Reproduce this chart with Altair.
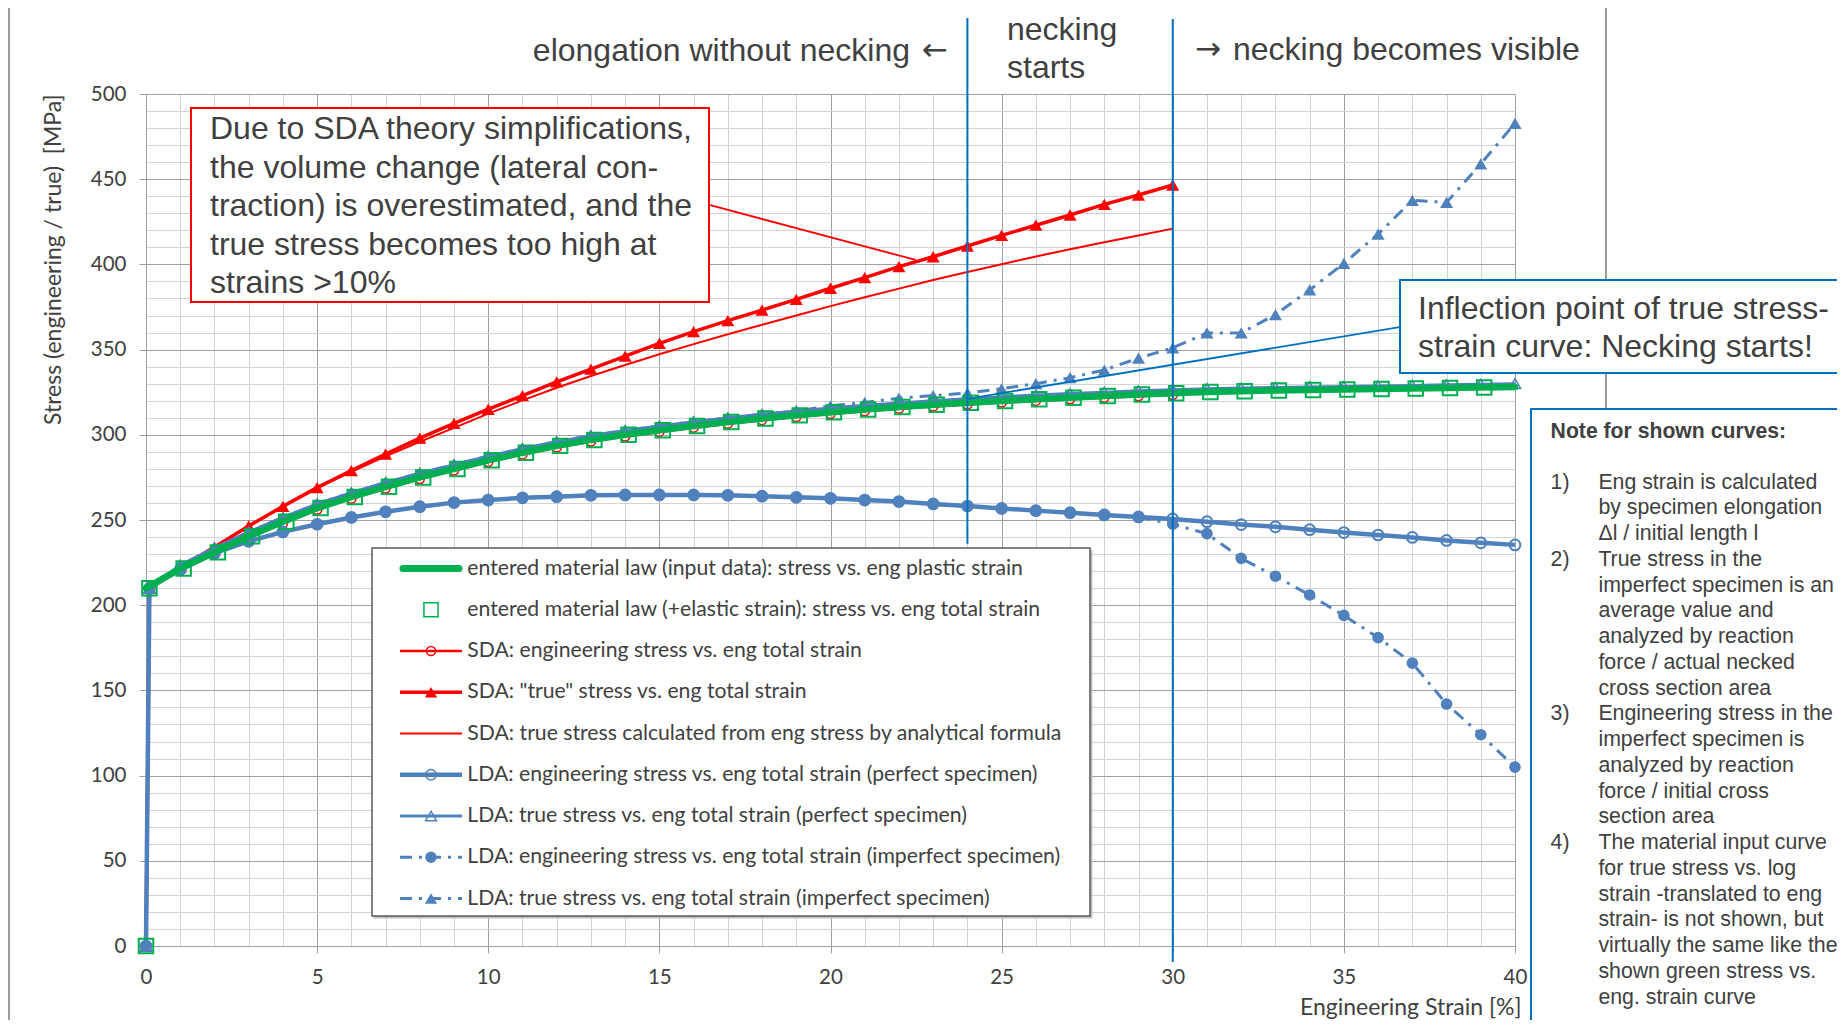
import altair as alt
import pandas as pd

# ---------------- data ----------------
strain_plastic = [0, 1, 2, 3, 4, 5, 6, 7, 8, 9, 10, 11, 12, 13, 14, 15, 16, 17, 18, 19, 20,
                  21, 22, 23, 24, 25, 26, 27, 28, 29, 30, 31, 32, 33, 34, 35, 36, 37, 38, 39, 40]
stress_mat_plastic = [210, 221.5, 231, 240.5, 249, 257, 263.5, 269.5, 275, 280, 285, 289.5, 293.5, 297, 300,
                      302.7, 305.2, 307.5, 309.6, 311.4, 313.2, 314.8, 316.3, 317.6, 318.8, 319.9, 320.9,
                      321.8, 322.7, 323.6, 324.4, 325.1, 325.6, 326, 326.3, 326.6, 326.9, 327.2, 327.5, 327.8, 328]

strain_mat_total = [0, 0.1, 1.1, 2.1, 3.1, 4.1, 5.1, 6.1, 7.1, 8.1, 9.1, 10.1, 11.1, 12.1, 13.1, 14.1,
                    15.1, 16.1, 17.1, 18.1, 19.1, 20.1, 21.1, 22.1, 23.1, 24.1, 25.1, 26.1, 27.1, 28.1,
                    29.1, 30.1, 31.1, 32.1, 33.1, 34.1, 35.1, 36.1, 37.1, 38.1, 39.1]
stress_mat_total = [0, 210, 221.5, 231, 240.5, 249, 257, 263.5, 269.5, 275, 280, 285, 289.5, 293.5, 297, 300,
                    302.7, 305.2, 307.5, 309.6, 311.4, 313.2, 314.8, 316.3, 317.6, 318.8, 319.9, 320.9,
                    321.8, 322.7, 323.6, 324.4, 325.1, 325.6, 326, 326.3, 326.6, 326.9, 327.2, 327.5, 327.8]

strain_sda = [0, 0.1, 1, 2, 3, 4, 5, 6, 7, 8, 9, 10, 11, 12, 13, 14, 15, 16, 17, 18, 19, 20,
              21, 22, 23, 24, 25, 26, 27, 28, 29, 30]
sda_eng = [0, 210, 220.5, 230, 239.5, 248, 256, 262.5, 268.5, 274, 279, 284, 288.5, 292.5, 296, 299,
           301.7, 304.2, 306.5, 308.6, 310.4, 312.2, 313.8, 315.3, 316.6, 317.8, 318.9, 319.9, 320.8,
           321.7, 322.6, 323.4]
sda_true = [0, 210, 222, 234, 246.5, 258, 269, 279, 288.7, 298, 306.7, 315, 323, 331, 338.5, 346.2,
            353.6, 360.5, 367, 373.2, 379.5, 386, 392.2, 398.7, 404.5, 410.8, 417, 423, 429, 435.2,
            440.7, 446.6]
sda_analytic = [0, 210, 222.7, 234.6, 246.7, 257.9, 268.8, 278.3, 287.3, 295.9, 304.1, 312.4, 320.2,
                327.6, 334.5, 341, 347.3, 353.2, 359, 364.6, 370, 375.5, 380.7, 385.8, 390.8, 395.5,
                400.1, 404.6, 408.9, 413, 417, 421]

strain_lda = [0, 0.1, 1, 2, 3, 4, 5, 6, 7, 8, 9, 10, 11, 12, 13, 14, 15, 16, 17, 18, 19, 20,
              21, 22, 23, 24, 25, 26, 27, 28, 29, 30, 31, 32, 33, 34, 35, 36, 37, 38, 39, 40]
lda_eng_perfect = [0, 210, 221, 230.5, 237.5, 243, 247.5, 251.5, 254.8, 257.8, 260.2, 261.7, 263, 263.7,
                   264.5, 264.7, 264.7, 264.7, 264.5, 264, 263.3, 262.7, 261.7, 260.8, 259.4, 258.2,
                   256.8, 255.5, 254.3, 253, 251.8, 250.6, 249, 247.3, 246, 244.3, 242.6, 241.2, 239.8,
                   238, 236.6, 235.4]
lda_true_perfect = [0, 210, 223.5, 233.5, 243, 251.5, 259.5, 266, 272, 277.5, 282.5, 287.5, 292, 296,
                    299.5, 302.5, 305.2, 307.7, 310, 312, 313.9, 315.7, 317.3, 318.7, 320, 321.2, 322.3,
                    323.3, 324.2, 325, 325.8, 326.5, 327, 327.4, 327.8, 328.1, 328.4, 328.7, 329, 329.3,
                    329.6, 330]
lda_eng_imperfect = [0, 210, 221, 230.5, 237.5, 243, 247.5, 251.5, 254.8, 257.8, 260.2, 261.7, 263, 263.7,
                     264.5, 264.7, 264.7, 264.7, 264.5, 264, 263.3, 262.7, 261.7, 260.8, 259.4, 258.2,
                     256.8, 255.5, 254.3, 253, 251.8, 247.5, 242, 227.5, 217, 206, 194, 181, 166, 142,
                     124, 105]
lda_true_imperfect = [0, 210, 223.5, 233.5, 243, 251.5, 259.5, 266, 272, 277.5, 282.5, 287.5, 292, 296,
                      299.5, 302.5, 305.2, 307.7, 310, 312, 313.9, 317, 319, 321.5, 323, 324.5, 327, 330,
                      333.5, 338, 345, 351, 359.8, 359.8, 370.5, 385, 400.6, 417.8, 437.6, 436.4, 459,
                      482.8]

# markers of the necking zone and the callout leader lines (data coordinates)
necking_x = [24, 30]
necking_top = [544.6, 544.0]
necking_bottom = [236, -9.4]
red_leader = {"x": [16.46], "y": [434.9], "x2": [22.49], "y2": [402.6]}
blue_leader = {"x": [36.67], "y": [363.4], "x2": [24.0], "y2": [321.1]}

x_grid_values = list(range(0, 41))
y_grid_values = list(range(0, 501, 10))

legend_labels = [
    "entered material law (input data): stress vs. eng plastic strain",
    "entered material law (+elastic strain): stress vs. eng total strain",
    "SDA: engineering stress vs. eng total strain",
    'SDA: "true" stress vs. eng total strain',
    "SDA: true stress calculated from eng stress by analytical formula",
    "LDA: engineering stress vs. eng total strain (perfect specimen)",
    "LDA: true stress vs. eng total strain (perfect specimen)",
    "LDA: engineering stress vs. eng total strain (imperfect specimen)",
    "LDA: true stress vs. eng total strain (imperfect specimen)",
]
red_note = ["Due to SDA theory simplifications,", "the volume change (lateral con-",
            "traction) is overestimated, and the", "true stress becomes too high at", "strains >10%"]
blue_note = ["Inflection point of true stress-", "strain curve: Necking starts!"]
note_title = "Note for shown curves:"
note_lines = ["Eng strain is calculated", "by specimen elongation", "\u0394l / initial length l",
              "True stress in the", "imperfect specimen is an", "average value and", "analyzed by reaction",
              "force / actual necked", "cross section area",
              "Engineering stress in the", "imperfect specimen is", "analyzed by reaction",
              "force / initial cross", "section area",
              "The material input curve", "for true stress vs. log", "strain -translated to eng",
              "strain- is not shown, but", "virtually the same like the", "shown green stress vs.",
              "eng. strain curve"]
note_numbers = {0: "1)", 3: "2)", 9: "3)", 14: "4)"}

# ---------------- styles ----------------
MAJOR = "#a0a0a0"
MINOR = "#d3d3d3"
TXT = "#404040"
GREEN = "#00b050"
RED = "#ff0000"
BLUE = "#4f81bd"
DBLUE = "#0070c0"
AX_FONT = "Lato"
AN_FONT = "Liberation Sans"
ARROW_FONT = "DejaVu Sans"
DASH = [12, 7, 3, 7]
BIG = 32

x_axis = alt.Axis(
    values=x_grid_values,
    labelExpr="datum.value % 5 === 0 ? datum.label : ''",
    grid=True,
    gridColor={"condition": {"test": "datum.value % 5 === 0", "value": MAJOR}, "value": MINOR},
    gridWidth=1,
    tickSize=7, tickColor=MAJOR,
    tickOpacity={"condition": {"test": "datum.value % 5 === 0", "value": 1}, "value": 0},
    domainColor=MAJOR, domainWidth=1,
    labelFont=AX_FONT, labelFontSize=20.5, labelColor=TXT, labelPadding=14.5,
    labelFlush=False, labelOverlap=False, labelBound=False,
    title="Engineering Strain [%]", titleFont=AX_FONT, titleFontSize=23, titleFontWeight="normal",
    titleColor=TXT, titleX=1375, titleY=61.5, titleAlign="right", titleBaseline="middle",
)
y_axis = alt.Axis(
    values=y_grid_values,
    labelExpr="datum.value % 50 === 0 ? datum.label : ''",
    grid=True,
    gridColor={"condition": {"test": "datum.value % 50 === 0", "value": MAJOR}, "value": MINOR},
    gridWidth=1,
    tickSize=7, tickColor=MAJOR,
    tickOpacity={"condition": {"test": "datum.value % 50 === 0", "value": 1}, "value": 0},
    domainColor=MAJOR, domainWidth=1,
    labelFont=AX_FONT, labelFontSize=20.5, labelColor=TXT, labelPadding=13,
    labelOverlap=False, labelBound=False, labelFlush=False,
    title="Stress (engineering / true)\u00a0 [MPa]", titleFont=AX_FONT, titleFontSize=23,
    titleFontWeight="normal", titleColor=TXT, titleX=-93, titleY=0, titleAngle=270,
    titleAlign="right", titleBaseline="middle",
)
xs = alt.Scale(domain=[0, 40], nice=False, zero=False)
ys = alt.Scale(domain=[0, 500], nice=False, zero=False)
X = alt.X("x:Q", scale=xs, axis=x_axis)
Y = alt.Y("y:Q", scale=ys, axis=y_axis)

one = pd.DataFrame({"k": [0]})
layers = []


def series_line(xv, yv, color, width, dash=None, cap="butt"):
    df = pd.DataFrame({"x": xv, "y": yv})
    kw = dict(color=color, strokeWidth=width, strokeJoin="round", strokeCap=cap)
    if dash:
        kw["strokeDash"] = dash
    return alt.Chart(df).mark_line(**kw).encode(x=X, y=Y)


def series_points(xv, yv, shape, size, color, filled, sw=1.5):
    df = pd.DataFrame({"x": xv, "y": yv})
    return alt.Chart(df).mark_point(shape=shape, size=size, filled=filled, color=color,
                                    strokeWidth=sw, opacity=1).encode(x=X, y=Y)


def txt(s, x, y, size, font=AN_FONT, align="left", weight="normal", color=TXT):
    return alt.Chart(one).mark_text(text=s, align=align, baseline="middle", font=font, fontSize=size,
                                    fontWeight=weight, color=color).encode(x=alt.value(x), y=alt.value(y))


def box(x1, y1, x2, y2, stroke, sw, fill="white", fill_opacity=1):
    return alt.Chart(one).mark_rect(fill=fill, fillOpacity=fill_opacity, stroke=stroke,
                                    strokeWidth=sw).encode(x=alt.value(x1), x2=alt.value(x2),
                                                           y=alt.value(y1), y2=alt.value(y2))


def seg(x1, y1, x2, y2, color, width, dash=None, cap="butt"):
    kw = dict(color=color, strokeWidth=width, strokeCap=cap)
    if dash:
        kw["strokeDash"] = dash
    return alt.Chart(one).mark_rule(**kw).encode(x=alt.value(x1), x2=alt.value(x2),
                                                 y=alt.value(y1), y2=alt.value(y2))


def sym(x, y, shape, size, color, filled, sw=1.5):
    return alt.Chart(one).mark_point(shape=shape, size=size, filled=filled, color=color, strokeWidth=sw,
                                     opacity=1).encode(x=alt.value(x), y=alt.value(y))


# outer frame of the picture
layers.append(box(-137, -88, 1460, 1000, "#9a9a9a", 2, fill="white", fill_opacity=0))

# data series
layers.append(series_line(strain_sda, sda_analytic, RED, 2))
layers.append(series_line(strain_sda, sda_eng, RED, 2.5))
layers.append(series_points(strain_sda, sda_eng, "circle", 81, RED, False, 1.5))
layers.append(series_line(strain_sda, sda_true, RED, 3.5))
layers.append(series_points(strain_sda, sda_true, "triangle-up", 170, RED, True))
layers.append(series_line(strain_lda, lda_eng_perfect, BLUE, 4.5))
layers.append(series_points(strain_lda, lda_eng_perfect, "circle", 115, BLUE, False, 2))
layers.append(series_line(strain_lda, lda_true_perfect, BLUE, 3))
layers.append(series_points(strain_lda, lda_true_perfect, "triangle-up", 130, BLUE, False, 1.5))
layers.append(series_line(strain_lda, lda_eng_imperfect, BLUE, 3, dash=DASH))
layers.append(series_points(strain_lda, lda_eng_imperfect, "circle", 135, BLUE, True))
layers.append(series_line(strain_lda, lda_true_imperfect, BLUE, 3, dash=DASH))
layers.append(series_points(strain_lda, lda_true_imperfect, "triangle-up", 170, BLUE, True))
layers.append(series_line(strain_plastic, stress_mat_plastic, GREEN, 6.5, cap="round"))
layers.append(series_points(strain_mat_total, stress_mat_total, "square", 210, GREEN, False, 2))

# necking zone lines
vdf = pd.DataFrame({"x": necking_x, "y": necking_top, "y2": necking_bottom})
layers.append(alt.Chart(vdf).mark_rule(color=DBLUE, strokeWidth=2).encode(x=X, y=Y, y2=alt.Y2("y2")))

# leader lines
layers.append(alt.Chart(pd.DataFrame(red_leader)).mark_rule(color=RED, strokeWidth=1.8).encode(
    x=X, y=Y, x2=alt.X2("x2"), y2=alt.Y2("y2")))
layers.append(alt.Chart(pd.DataFrame(blue_leader)).mark_rule(color=DBLUE, strokeWidth=1.8).encode(
    x=X, y=Y, x2=alt.X2("x2"), y2=alt.Y2("y2")))

# red callout
layers.append(box(45, 14, 563, 208, RED, 2))
for i, s in enumerate(red_note):
    layers.append(txt(s, 64, 35 + 38.6 * i, BIG))

# blue callout
layers.append(box(1254, 186, 1720, 279, DBLUE, 2))
for i, s in enumerate(blue_note):
    layers.append(txt(s, 1272, 214.5 + 38.5 * i, BIG))

# note box
layers.append(box(1385, 315, 1720, 928, DBLUE, 2))
layers.append(txt(note_title, 1404.6, 337.5, 21.2, weight="bold"))
for i, s in enumerate(note_lines):
    yy = 388.5 + 25.75 * i
    layers.append(txt(s, 1452.4, yy, 21.3))
    if i in note_numbers:
        layers.append(txt(note_numbers[i], 1404.6, yy, 21.3))

# legend
layers.append(box(228, 456, 946, 824, "#c0c0c0", 1, fill="#c0c0c0"))
layers.append(box(226, 454, 944, 822, "#595959", 1.5))
LX1, LX2, LM, LT = 254, 316, 285, 321.3
ly = [474.5 + 41.25 * i for i in range(len(legend_labels))]
layers.append(seg(LX1 + 3, ly[0], LX2 - 3, ly[0], GREEN, 7, cap="round"))
layers.append(sym(LM, ly[1], "square", 200, GREEN, False, 1.5))
layers.append(seg(LX1, ly[2], LX2, ly[2], RED, 2.5))
layers.append(sym(LM, ly[2], "circle", 81, RED, False, 1.5))
layers.append(seg(LX1, ly[3], LX2, ly[3], RED, 3.5))
layers.append(sym(LM, ly[3], "triangle-up", 150, RED, True))
layers.append(seg(LX1, ly[4], LX2, ly[4], RED, 2))
layers.append(seg(LX1, ly[5], LX2, ly[5], BLUE, 4.5))
layers.append(sym(LM, ly[5], "circle", 110, BLUE, False, 1.5))
layers.append(seg(LX1, ly[6], LX2, ly[6], BLUE, 3))
layers.append(sym(LM, ly[6], "triangle-up", 120, BLUE, False, 1.5))
layers.append(seg(LX1, ly[7], LX2, ly[7], BLUE, 3, dash=DASH))
layers.append(sym(LM, ly[7], "circle", 130, BLUE, True))
layers.append(seg(LX1, ly[8], LX2, ly[8], BLUE, 3, dash=DASH))
layers.append(sym(LM, ly[8], "triangle-up", 150, BLUE, True))
for i, s in enumerate(legend_labels):
    layers.append(txt(s, LT, ly[i], 21.2, font=AX_FONT))

# labels above the plot
layers.append(txt("elongation without necking", 764, -43.5, BIG, align="right"))
layers.append(txt("\u2190", 776, -43.5, 31, font=ARROW_FONT))
layers.append(txt("necking", 861, -64, BIG))
layers.append(txt("starts", 861, -25.7, BIG))
layers.append(txt("\u2192", 1049, -44.4, 31, font=ARROW_FONT))
layers.append(txt("necking becomes visible", 1087, -44.4, BIG))

chart = alt.layer(*layers).properties(
    width=1369, height=852,
    autosize=alt.AutoSizeParams(type="none"),
    padding={"left": 138, "top": 86, "right": 322, "bottom": 74},
).configure_view(stroke=None)

chart.save("out.html", embed_options={"renderer": "svg", "actions": False})
